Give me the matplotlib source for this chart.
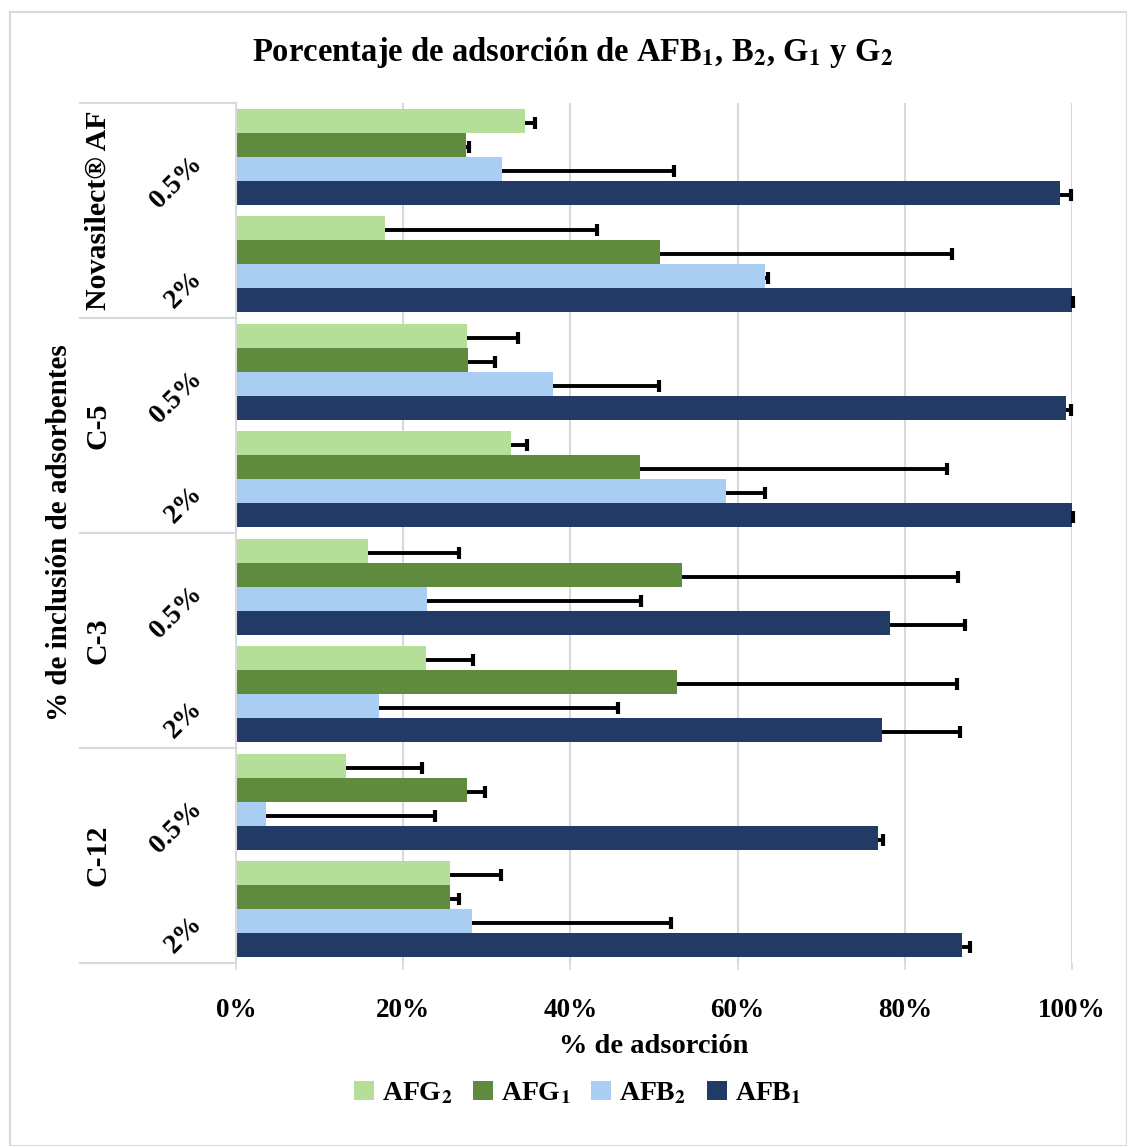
import matplotlib.pyplot as plt
import numpy as np
from matplotlib.patches import Patch, Rectangle

plt.rcParams['font.family'] = ['Liberation Serif', 'DejaVu Serif']
plt.rcParams['font.weight'] = 'bold'
plt.rcParams['mathtext.fontset'] = 'stix'

# --- data (top to bottom) ---
adsorbents = ["Novasilect® AF", "C-5", "C-3", "C-12"]
doses = ["0.5%", "2%"]
series = [r"AFG$_\mathbf{2}$", r"AFG$_\mathbf{1}$", r"AFB$_\mathbf{2}$", r"AFB$_\mathbf{1}$"]
colors = ["#B5DF98", "#5E8B3E", "#A9CEF2", "#223A66"]

afg2 = [34.6, 17.8, 27.6, 32.9, 15.8, 22.7, 13.2, 25.6]
afg2_err = [1.2, 25.4, 6.1, 1.9, 10.9, 5.7, 9.1, 6.1]
afg1 = [27.5, 50.7, 27.8, 48.3, 53.3, 52.8, 27.6, 25.6]
afg1_err = [0.4, 34.9, 3.2, 36.7, 33.1, 33.5, 2.2, 1.1]
afb2 = [31.8, 63.3, 37.9, 58.6, 22.8, 17.1, 3.6, 28.2]
afb2_err = [20.6, 0.3, 12.7, 4.7, 25.6, 28.6, 20.2, 23.8]
afb1 = [98.6, 100, 99.3, 100, 78.2, 77.3, 76.8, 86.8]
afb1_err = [1.3, 0.1, 0.6, 0.1, 9.0, 9.3, 0.6, 1.0]

values = [afg2, afg1, afb2, afb1]
errors = [afg2_err, afg1_err, afb2_err, afb1_err]

W, H = 1127, 1146
fig = plt.figure(figsize=(W / 100, H / 100), dpi=100)
ax = fig.add_axes([236 / W, 1 - 963 / H, (1072 - 236) / W, (963 - 103) / H])

n = len(afb1)
y = np.arange(n)
bh = 24 / 107.5
for k in range(4):
    pos = y + (k - 1.5) * bh
    v = np.array(values[k])
    e = np.array(errors[k])
    ax.barh(pos, v, height=bh, color=colors[k], zorder=2)
    # one-sided error bars, cap only at the far end
    ax.hlines(pos + 0.02, v, v + e, color='black', linewidth=2.8, zorder=3)
    ax.plot(v + e, pos + 0.02, ls='none', marker='|', markersize=9, markeredgewidth=3,
            color='black', zorder=3, clip_on=False)

ax.set_xlim(0, 100)
ax.set_ylim(n - 0.5, -0.5)
ax.set_xticks([0, 20, 40, 60, 80, 100])
ax.set_xticklabels(["0%", "20%", "40%", "60%", "80%", "100%"], fontsize=19.5, fontweight='bold')
ax.tick_params(axis='x', length=5, width=1.2, color='#D9D9D9', pad=20)
ax.set_yticks([])
ax.grid(axis='x', color='#D9D9D9', linewidth=1.5, zorder=0)
for s in ['top', 'right', 'bottom']:
    ax.spines[s].set_visible(False)
ax.spines['left'].set_color('#D9D9D9')
ax.spines['left'].set_linewidth(1.5)

ax.set_xlabel("% de adsorción", fontsize=20.5, fontweight='bold', labelpad=8)

# multi-level category labels
x0 = -(236 - 80) / (1072 - 236)
for b in [-0.5, 1.5, 3.5, 5.5, 7.5]:
    ax.plot([x0, 0], [b, b], transform=ax.get_yaxis_transform(), color='#D9D9D9',
            linewidth=1.5, clip_on=False)
for i in range(n):
    ax.text(-0.034, i + 0.24, doses[i % 2], transform=ax.get_yaxis_transform(),
            rotation=45, ha='right', va='center', fontsize=20, fontweight='bold')
for j, name in enumerate(adsorbents):
    ax.text(-0.165, 2 * j + 0.5, name, transform=ax.get_yaxis_transform(),
            rotation=90, ha='center', va='center', fontsize=21.5, fontweight='bold')

fig.text(60 / W, 1 - 533 / H, "% de inclusión de adsorbentes", rotation=90,
         ha='center', va='center', fontsize=21, fontweight='bold')

fig.text(573 / W, 1 - 53 / H,
         r"Porcentaje de adsorción de AFB$_\mathbf{1}$, B$_\mathbf{2}$, G$_\mathbf{1}$ y G$_\mathbf{2}$",
         ha='center', va='center', fontsize=23.5, fontweight='bold')

handles = [Patch(facecolor=c) for c in colors]
fig.legend(handles, series, loc='center', bbox_to_anchor=(578 / W, 1 - 1093 / H), ncol=4,
           frameon=False, fontsize=20, handlelength=0.7, handleheight=0.7,
           handletextpad=0.3, columnspacing=0.75)

fig.patches.append(Rectangle((10 / W, 0), 1 - 10 / W, 1 - 12 / H, transform=fig.transFigure,
                             fill=False, edgecolor='#D9D9D9', linewidth=1.5))

fig.savefig("out.png", dpi=100)
